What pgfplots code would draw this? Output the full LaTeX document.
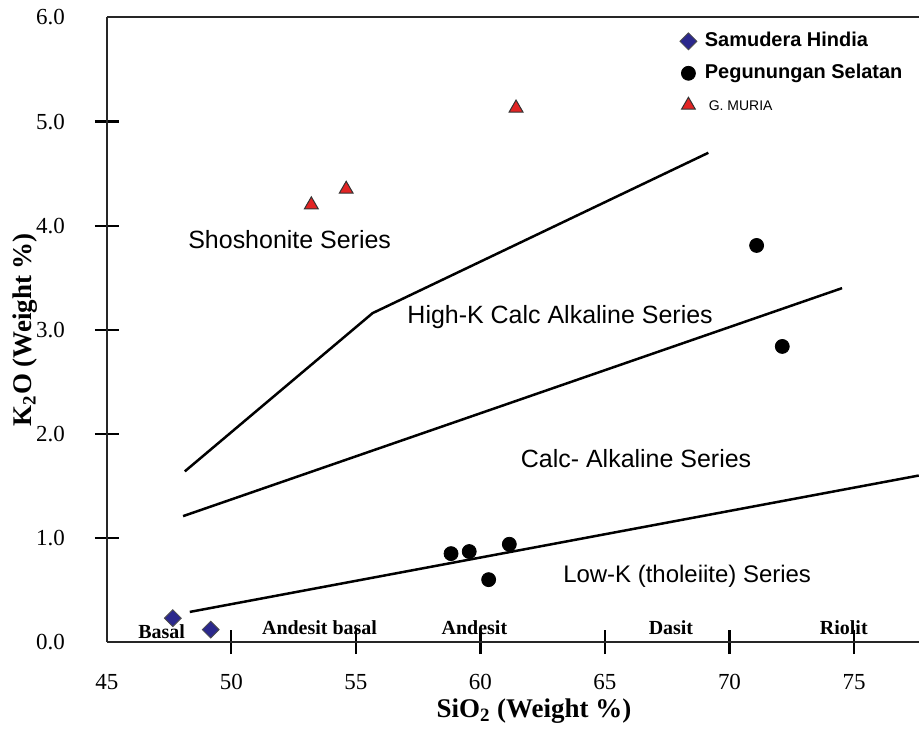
\documentclass[border=0pt]{standalone}
\usepackage{fontspec}
\setmainfont{Liberation Serif}
\newfontfamily\arial{Liberation Sans}
\usepackage{pgfplots}
\pgfplotsset{compat=1.18}
\definecolor{navy}{RGB}{43,40,140}
\definecolor{trired}{RGB}{226,36,36}

\begin{document}
\begin{tikzpicture}
\begin{axis}[
  scale only axis, width=406.5pt, height=312.75pt,
  xmin=45, xmax=77.6, ymin=0, ymax=6,
  axis x line*=bottom, axis y line*=left,
  axis line style={line width=1pt, black!85, -},
  xtick={50,55,...,75}, ytick={1,...,5},
  extra x ticks={45}, extra y ticks={0,6},
  extra tick style={major tick style={draw=none}},
  tick align=center, major tick length=12pt,
  tick style={line width=1.1pt, black},
  /pgf/number format/assume math mode=true,
  tick label style={font=\fontsize{11.5}{13}\selectfont},
  xticklabel style={yshift=-6.5pt},
  yticklabel style={xshift=-11.5pt, /pgf/number format/.cd, fixed, fixed zerofill, precision=1},
  every axis x label/.style={at={(axis description cs:0.526,0)}, yshift=-34.5pt, anchor=center},
  every axis y label/.style={at={(axis description cs:0,0.5)}, xshift=-41pt, rotate=90, anchor=center},
  label style={font=\bfseries\fontsize{13.5}{15}\selectfont},
  xlabel={SiO\textsubscript{2} (Weight \%)},
  ylabel={K\textsubscript{2}O (Weight \%)},
  clip=false,
  legend cell align=left,
  legend style={draw=none, fill=none, at={(rel axis cs:0.698,0.992)}, anchor=north west,
    row sep=1.5pt, column sep=2pt, nodes={text height=8pt, text depth=2.5pt}},
]
% series boundaries
\addplot[black, line width=1.25pt, forget plot] coordinates {(48.13,1.64) (55.67,3.16) (69.15,4.70)};
\addplot[black, line width=1.25pt, forget plot] coordinates {(48.06,1.21) (74.52,3.40)};
\addplot[black, line width=1.25pt, forget plot] coordinates {(48.33,0.29) (77.6,1.60)};

% samples
\addplot[only marks, mark=square*, mark size=3pt, mark options={rotate=45, fill=navy, draw=black!70, line width=0.4pt}]
  coordinates {(47.65,0.23) (49.17,0.12)};
\addlegendentry{\arial\bfseries\fontsize{10}{12}\selectfont Samudera Hindia}
\addplot[only marks, mark=*, mark size=3.5pt, mark options={fill=black, draw=black}]
  coordinates {(58.82,0.85) (59.55,0.87) (61.16,0.94) (60.33,0.60) (71.09,3.81) (72.12,2.84)};
\addlegendentry{\arial\bfseries\fontsize{10}{12}\selectfont Pegunungan Selatan}
\addplot[only marks, mark=triangle*, mark size=4pt, mark options={fill=trired, draw=black!80, line width=0.5pt}]
  coordinates {(53.21,4.20) (54.61,4.35) (61.43,5.13)};
\addlegendentry{\arial\fontsize{7}{12}\selectfont\ G. MURIA}

% series names
\node[font=\arial\fontsize{12.5}{14}\selectfont] at (axis cs:52.34,3.87) {Shoshonite Series};
\node[font=\arial\fontsize{12.5}{14}\selectfont] at (axis cs:63.2,3.12) {High-K Calc Alkaline Series};
\node[font=\arial\fontsize{12.5}{14}\selectfont] at (axis cs:66.25,1.76) {Calc- Alkaline Series};
\node[font=\arial\fontsize{12}{14}\selectfont] at (axis cs:68.3,0.63) {Low-K (tholeiite) Series};

% rock names
\node[font=\bfseries\fontsize{10}{12}\selectfont] at (axis cs:47.2,0.105) {Basal};
\node[font=\bfseries\fontsize{10}{12}\selectfont] at (axis cs:53.54,0.14) {Andesit basal};
\node[font=\bfseries\fontsize{10}{12}\selectfont] at (axis cs:59.76,0.14) {Andesit};
\node[font=\bfseries\fontsize{10}{12}\selectfont] at (axis cs:67.65,0.14) {Dasit};
\node[font=\bfseries\fontsize{10}{12}\selectfont] at (axis cs:74.59,0.14) {Riolit};

% top frame line and page size
\draw[line width=1pt, black!85] (rel axis cs:0,1) -- (rel axis cs:1,1);
\path (rel axis cs:0,0) ++(-53.5pt,-45pt) rectangle ([shift={(0pt,8.75pt)}]rel axis cs:1,1);
\end{axis}
\end{tikzpicture}
\end{document}
